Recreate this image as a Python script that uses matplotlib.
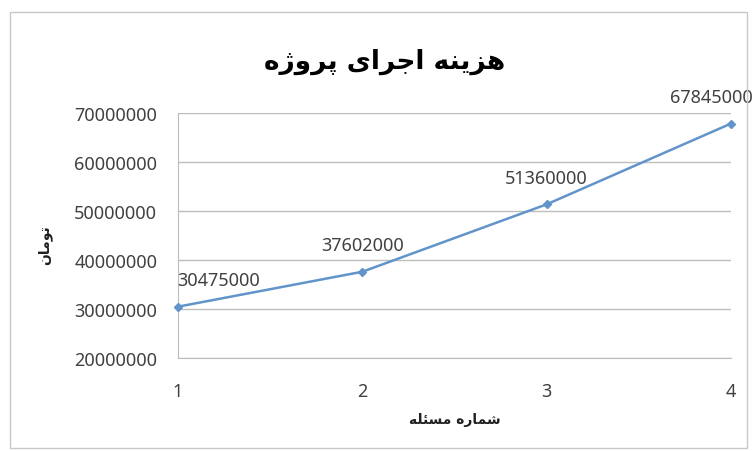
import numpy as np
import matplotlib
matplotlib.use('Agg')
import matplotlib.pyplot as plt
from matplotlib.patches import Rectangle

#project cost per problem number (toman)
problem_no = [1, 2, 3, 4]
cost = [30475000, 37602000, 51360000, 67845000]
y_ticks = [20000000, 30000000, 40000000, 50000000, 60000000, 70000000]

title_txt = 'هزینه اجرای پروژه'
xlabel_txt = 'شماره مسئله'
ylabel_txt = 'تومان'

#matplotlib does not shape arabic script, so pick the presentation forms by hand
#(isolated, final, initial, medial); two entry letters never join to the left
FORMS = {
    'ه': (0xFEE9, 0xFEEA, 0xFEEB, 0xFEEC),
    'ز': (0xFEAF, 0xFEB0),
    'ی': (0xFBFC, 0xFBFD, 0xFBFE, 0xFBFF),
    'ن': (0xFEE5, 0xFEE6, 0xFEE7, 0xFEE8),
    'ا': (0xFE8D, 0xFE8E),
    'ج': (0xFE9D, 0xFE9E, 0xFE9F, 0xFEA0),
    'ر': (0xFEAD, 0xFEAE),
    'پ': (0xFB56, 0xFB57, 0xFB58, 0xFB59),
    'و': (0xFEED, 0xFEEE),
    'ژ': (0xFB8A, 0xFB8B),
    'ت': (0xFE95, 0xFE96, 0xFE97, 0xFE98),
    'م': (0xFEE1, 0xFEE2, 0xFEE3, 0xFEE4),
    'ش': (0xFEB5, 0xFEB6, 0xFEB7, 0xFEB8),
    'س': (0xFEB1, 0xFEB2, 0xFEB3, 0xFEB4),
    'ئ': (0xFE89, 0xFE8A, 0xFE8B, 0xFE8C),
    'ل': (0xFEDD, 0xFEDE, 0xFEDF, 0xFEE0),
}

def shape(s):
    out = []
    for i, ch in enumerate(s):
        if ch not in FORMS:
            out.append(ch)
            continue
        prev = s[i-1] if i > 0 else ''
        nxt = s[i+1] if i < len(s)-1 else ''
        j_prev = prev in FORMS and len(FORMS[prev]) == 4
        j_next = nxt in FORMS and len(FORMS[ch]) == 4
        f = FORMS[ch]
        if j_prev and j_next:
            out.append(chr(f[3]))
        elif j_prev:
            out.append(chr(f[1]))
        elif j_next:
            out.append(chr(f[2]))
        else:
            out.append(chr(f[0]))
    return ''.join(out)[::-1]

num_font = ['Noto Sans', 'DejaVu Sans']
line_col = '#6194CA'
grid_col = '#BDBDBD'
txt_col = '#404040'

fig = plt.figure(figsize=(7.52, 4.52), dpi=100)
fig.patch.set_facecolor('white')

#outer chart frame
fig.patches.append(Rectangle((10/752, 1-449/452), 737/752, 436/452, transform=fig.transFigure,
                             fill=False, edgecolor='#C8C8C8', linewidth=1.0))

ax = fig.add_axes([178/752, 1-359/452, 553/752, 245/452])
ax.plot(problem_no, cost, color=line_col, linewidth=1.8, marker='D', markersize=4.5,
        markerfacecolor=line_col, markeredgecolor=line_col, clip_on=False, zorder=3)

#value labels above each point
label_shift = [29, 0, 0, -14]
for x, y, dx in zip(problem_no, cost, label_shift):
    ax.annotate(str(y), (x, y), xytext=(dx, 19), textcoords='offset points',
                ha='center', va='center', fontsize=13, color=txt_col,
                family=num_font, annotation_clip=False)

ax.set_xlim(1, 4)
ax.set_ylim(20000000, 70000000)
ax.set_xticks(problem_no)
ax.set_yticks(y_ticks)
ax.set_yticklabels([str(v) for v in y_ticks])
ax.tick_params(length=0, labelsize=13, labelcolor=txt_col)
for lab in ax.get_xticklabels() + ax.get_yticklabels():
    lab.set_family(num_font)
ax.tick_params(axis='y', pad=15)
ax.tick_params(axis='x', pad=17)

ax.grid(axis='y', color=grid_col, linewidth=1.0)
ax.set_axisbelow(True)
for side in ['top', 'right']:
    ax.spines[side].set_visible(False)
ax.spines['left'].set_color(grid_col)
ax.spines['bottom'].set_color(grid_col)

fig.text(385/752, 1-62/452, shape(title_txt), ha='center', va='center',
         fontsize=19, fontweight='bold', family='DejaVu Sans', color='black')
fig.text(455/752, 1-420/452, shape(xlabel_txt), ha='center', va='center',
         fontsize=10, fontweight='bold', family='DejaVu Sans', color='#202020')
fig.text(45/752, 1-245/452, shape(ylabel_txt), ha='center', va='center', rotation=90,
         fontsize=10, fontweight='bold', family='DejaVu Sans', color='#202020')

plt.savefig('out.png', dpi=100)
